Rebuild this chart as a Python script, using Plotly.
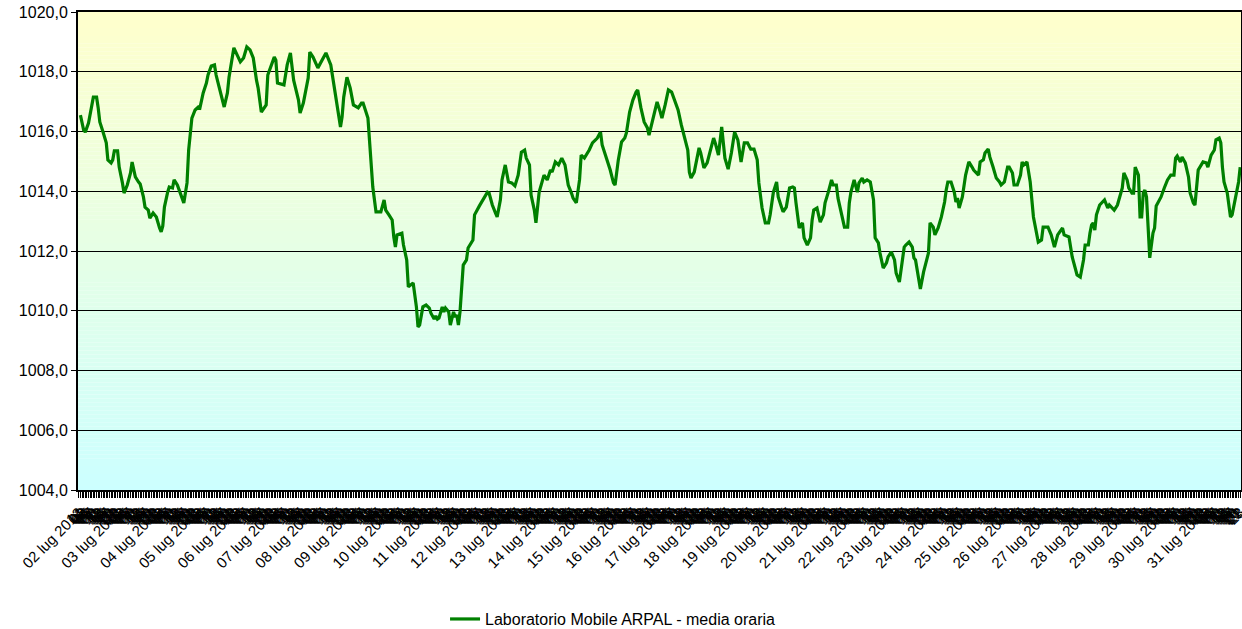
import plotly.graph_objects as go

# Hourly readings: hour offset from 02 lug 2013 00:00, pressure in hPa
hours = [
    1, 3, 4, 6, 9, 11, 12, 13, 15, 17, 18, 20, 21, 22,
    24, 25, 27, 28, 30, 32, 33, 35, 37, 38, 40, 41, 43, 44, 46,
    48, 50, 51, 52, 53, 55, 56, 58, 59, 61, 63, 65, 67, 68, 70,
    72, 74, 75, 77, 79, 80, 82, 84, 85, 87, 89, 90, 92, 93,
    96, 98, 100, 102, 104, 106, 108, 110, 111, 113, 115, 116, 117, 119,
    121, 122, 123, 127, 129, 131, 133, 136, 137, 139, 142, 143,
    145, 148, 150, 153, 156, 158, 160, 162, 163, 164, 166,
    168, 170, 173, 175, 176, 179, 181, 182, 184, 187, 189, 190,
    192, 194, 195, 196, 197, 200, 201, 203, 204, 207, 209, 210, 211, 213, 215,
    217, 218, 220, 221, 222, 223, 225, 226, 227, 229, 230, 232, 233, 234, 235, 236, 237, 238,
    240, 241, 244, 245, 248, 250, 253, 254, 256, 258, 259, 261, 262,
    264, 266, 268, 270, 272, 273, 274, 276, 277, 279, 280, 282, 283, 285,
    288, 290, 292, 293, 295, 297, 299, 301, 303, 305, 306, 308, 310, 311,
    313, 316, 318, 321, 323, 324, 327, 329, 331, 332, 334,
    336, 338, 339, 341, 343, 345, 346, 348, 350, 352, 353, 355, 357, 358,
    360, 361, 363, 365, 367, 369, 371, 373, 375, 377, 378, 379, 381, 383,
    384, 385, 387, 389, 393, 394, 396, 398, 400, 402, 404, 406,
    408, 410, 412, 414, 416, 418, 420, 421, 423, 425, 427, 428, 429, 430,
    432, 433, 435, 436, 438, 439, 440, 442, 443, 444, 446, 448, 449, 451, 453, 454, 455,
    457, 459, 461, 462, 464, 466, 467, 469, 470, 472, 474, 476, 477, 478,
    480, 482, 483, 485, 486, 488, 490, 492, 493, 495, 496, 498, 500, 501, 503,
    505, 506, 508, 511, 512, 514, 516, 517, 518, 519, 521, 523, 526, 527,
    529, 530, 532, 534, 536, 537, 538, 540, 542, 543, 544, 545, 547, 549, 551,
    553, 554, 557, 558, 560, 561, 563, 564, 566, 568, 570, 571, 573, 574, 575,
    576, 578, 579, 581, 583, 584, 585, 587, 589, 591, 594, 596, 597,
    600, 602, 604, 606, 609, 610, 613, 615, 618, 620, 622, 623,
    625, 626, 627, 628, 629, 630, 632, 635, 637, 638, 641, 643, 644, 646, 647,
    649, 650, 652, 653, 654, 656, 657, 658, 659, 660, 661, 662, 663, 665, 666, 667, 668, 670,
    672, 674, 676, 678, 679, 680, 682, 683, 685, 687, 688, 690, 691, 692, 693,
    696, 698, 699, 701, 703, 704, 706, 707, 708, 709, 711, 713, 714, 716, 718, 719,
]

pressure = [
    1016.55, 1016.05, 1015.98, 1016.28, 1017.15, 1017.15, 1016.79, 1016.32, 1015.98, 1015.62, 1015.05, 1014.95, 1015.05, 1015.35,
    1015.35, 1014.81, 1014.28, 1013.94, 1014.21, 1014.61, 1014.98, 1014.48, 1014.31, 1014.24, 1013.81, 1013.47, 1013.37, 1013.10, 1013.27,
    1013.14, 1012.77, 1012.64, 1012.84, 1013.47, 1013.97, 1014.14, 1014.11, 1014.38, 1014.21, 1013.87, 1013.61, 1014.28, 1015.38, 1016.45,
    1016.72, 1016.82, 1016.79, 1017.29, 1017.62, 1017.89, 1018.19, 1018.23, 1017.89, 1017.46, 1017.05, 1016.82, 1017.29, 1017.82,
    1018.80, 1018.56, 1018.33, 1018.46, 1018.83, 1018.73, 1018.46, 1017.72, 1017.46, 1016.65, 1016.79, 1016.89, 1017.89, 1018.23,
    1018.49, 1018.39, 1017.62, 1017.56, 1018.23, 1018.63, 1017.72, 1017.05, 1016.62, 1016.95, 1017.79, 1018.66,
    1018.49, 1018.13, 1018.33, 1018.63, 1018.23, 1017.49, 1016.72, 1016.15, 1016.49, 1017.15, 1017.82,
    1017.46, 1016.89, 1016.79, 1016.95, 1016.95, 1016.45, 1014.81, 1014.14, 1013.31, 1013.31, 1013.71, 1013.37,
    1013.21, 1013.04, 1012.47, 1012.13, 1012.54, 1012.60, 1012.20, 1011.70, 1010.80, 1010.93, 1010.13, 1009.46, 1009.52, 1010.13, 1010.19,
    1010.09, 1009.92, 1009.72, 1009.82, 1009.72, 1009.76, 1010.13, 1009.96, 1010.09, 1009.96, 1009.52, 1009.96, 1009.79, 1009.86, 1009.52, 1009.96, 1010.69, 1011.53,
    1011.70, 1012.10, 1012.37, 1013.21, 1013.51, 1013.71, 1013.97, 1013.94, 1013.54, 1013.27, 1013.14, 1013.71, 1014.38,
    1014.88, 1014.31, 1014.28, 1014.18, 1014.54, 1015.05, 1015.31, 1015.38, 1015.11, 1014.88, 1013.87, 1013.37, 1012.94, 1013.97,
    1014.54, 1014.38, 1014.71, 1014.64, 1014.98, 1014.88, 1015.11, 1014.88, 1014.21, 1013.94, 1013.77, 1013.61, 1014.38, 1015.21,
    1015.11, 1015.38, 1015.62, 1015.78, 1015.98, 1015.55, 1015.05, 1014.71, 1014.28, 1014.21, 1015.05,
    1015.65, 1015.78, 1015.95, 1016.65, 1017.05, 1017.32, 1017.39, 1016.79, 1016.32, 1016.12, 1015.88, 1016.32, 1016.79, 1016.99,
    1016.65, 1016.45, 1016.89, 1017.39, 1017.32, 1017.05, 1016.72, 1016.22, 1015.78, 1015.38, 1014.64, 1014.44, 1014.64, 1015.21,
    1015.45, 1015.28, 1014.78, 1014.95, 1015.78, 1015.62, 1015.21, 1016.15, 1015.11, 1014.74, 1015.28, 1015.98,
    1015.72, 1014.98, 1015.62, 1015.62, 1015.41, 1015.41, 1015.05, 1014.28, 1013.44, 1012.94, 1012.94, 1013.21, 1013.64, 1013.97,
    1014.31, 1013.81, 1013.47, 1013.31, 1013.47, 1013.81, 1014.11, 1014.14, 1014.11, 1013.61, 1012.77, 1012.94, 1012.44, 1012.20, 1012.44, 1013.04, 1013.37,
    1013.44, 1012.97, 1013.21, 1013.61, 1013.97, 1014.38, 1014.21, 1014.21, 1013.77, 1013.27, 1012.80, 1012.80, 1013.61, 1013.97,
    1014.38, 1013.97, 1014.28, 1014.44, 1014.31, 1014.38, 1014.31, 1013.71, 1012.44, 1012.27, 1011.93, 1011.43, 1011.60, 1011.80, 1011.97,
    1011.70, 1011.26, 1010.96, 1012.13, 1012.20, 1012.30, 1012.13, 1011.77, 1011.70, 1011.36, 1010.73, 1011.30, 1011.93, 1012.94,
    1012.80, 1012.54, 1012.77, 1013.14, 1013.64, 1014.04, 1014.31, 1014.31, 1013.97, 1013.64, 1013.77, 1013.44, 1013.81, 1014.54, 1014.98,
    1014.81, 1014.71, 1014.54, 1014.98, 1015.05, 1015.28, 1015.41, 1015.15, 1014.81, 1014.44, 1014.31, 1014.21, 1014.31, 1014.64, 1014.81,
    1014.81, 1014.61, 1014.21, 1014.21, 1014.54, 1014.98, 1014.88, 1014.98, 1014.31, 1013.14, 1012.30, 1012.37, 1012.80,
    1012.80, 1012.54, 1012.13, 1012.54, 1012.77, 1012.54, 1012.47, 1011.80, 1011.20, 1011.13, 1011.70, 1012.20,
    1012.20, 1012.60, 1012.87, 1012.94, 1012.70, 1013.21, 1013.54, 1013.71, 1013.44, 1013.54, 1013.37, 1013.54, 1013.71, 1014.11, 1014.61,
    1014.38, 1014.11, 1013.94, 1013.94, 1014.81, 1014.54, 1013.14, 1013.14, 1013.94, 1014.04, 1013.81, 1012.80, 1011.77, 1012.60, 1012.77, 1013.51, 1013.61, 1013.81,
    1014.11, 1014.38, 1014.54, 1014.54, 1015.11, 1015.18, 1014.98, 1015.15, 1014.95, 1014.48, 1013.94, 1013.61, 1013.54, 1014.28, 1014.71,
    1014.98, 1014.95, 1014.81, 1015.21, 1015.38, 1015.72, 1015.78, 1015.62, 1014.81, 1014.31, 1013.94, 1013.14, 1013.21, 1013.81, 1014.31, 1014.81,
]

day_labels = [
    "02 lug 2013", "03 lug 2013", "04 lug 2013", "05 lug 2013", "06 lug 2013",
    "07 lug 2013", "08 lug 2013", "09 lug 2013", "10 lug 2013", "11 lug 2013",
    "12 lug 2013", "13 lug 2013", "14 lug 2013", "15 lug 2013", "16 lug 2013",
    "17 lug 2013", "18 lug 2013", "19 lug 2013", "20 lug 2013", "21 lug 2013",
    "22 lug 2013", "23 lug 2013", "24 lug 2013", "25 lug 2013", "26 lug 2013",
    "27 lug 2013", "28 lug 2013", "29 lug 2013", "30 lug 2013", "31 lug 2013",
]
hour_labels = ["%02d" % h for h in range(24)]

series_name = "Laboratorio Mobile ARPAL - media oraria"

n_cat = len(day_labels) * 24
tickvals = list(range(n_cat))
ticktext = [day_labels[i // 24] if i % 24 == 0 else hour_labels[i % 24] for i in tickvals]

FONT = "Liberation Sans, Arial, sans-serif"

fig = go.Figure()
fig.add_trace(go.Scatter(
    x=hours, y=pressure, mode="lines", name=series_name,
    line=dict(color="#008000", width=3.2),
))

# vertical gradient background (light yellow -> light cyan)
shapes = []
nb = 120
top = (255, 255, 204)
bot = (204, 255, 255)
for i in range(nb):
    t = (i + 0.5) / nb
    c = tuple(round(top[k] + (bot[k] - top[k]) * t) for k in range(3))
    shapes.append(dict(
        type="rect", xref="x domain", yref="y domain",
        x0=0, x1=1, y0=1 - (i + 1) / nb, y1=1 - i / nb,
        fillcolor="rgb(%d,%d,%d)" % c, line=dict(width=0), layer="below",
    ))

fig.update_layout(
    width=1242, height=629,
    margin=dict(l=78, r=1, t=12, b=139, autoexpand=False),
    paper_bgcolor="white", plot_bgcolor="white",
    separators=",.",
    font=dict(family=FONT, size=15, color="black"),
    shapes=shapes,
    showlegend=True,
    hovermode=False,
    legend=dict(orientation="h", x=0.3156, xanchor="left", y=-0.27, yanchor="middle",
                font=dict(size=16, family=FONT), bgcolor="rgba(0,0,0,0)"),
)
fig.update_xaxes(
    range=[-0.5, n_cat - 0.5], tickmode="array", tickvals=tickvals, ticktext=ticktext,
    tickangle=-45, ticks="outside", ticklen=6, tickwidth=1, tickcolor="black",
    tickfont=dict(size=15, family=FONT), showgrid=False, zeroline=False,
    showline=True, linecolor="black", linewidth=2, mirror=True, automargin=False,
    ticklabeloverflow="allow",
)
fig.update_yaxes(
    range=[1004, 1020], dtick=2, tick0=1004, tickformat=".1f",
    ticks="outside", ticklen=5, tickcolor="black",
    tickfont=dict(size=16, family=FONT),
    showgrid=True, gridcolor="black", gridwidth=1, zeroline=False,
    showline=True, linecolor="black", linewidth=2, mirror=True, automargin=False,
    ticklabeloverflow="allow",
)

# remove the default page margin so the figure fills the 1242x629 window exactly
fig.write_html(
    "out.html",
    config={"displayModeBar": False},
    post_script="document.body.style.margin='0px';"
                "document.documentElement.style.overflow='hidden';"
                "document.body.style.overflow='hidden';",
)
